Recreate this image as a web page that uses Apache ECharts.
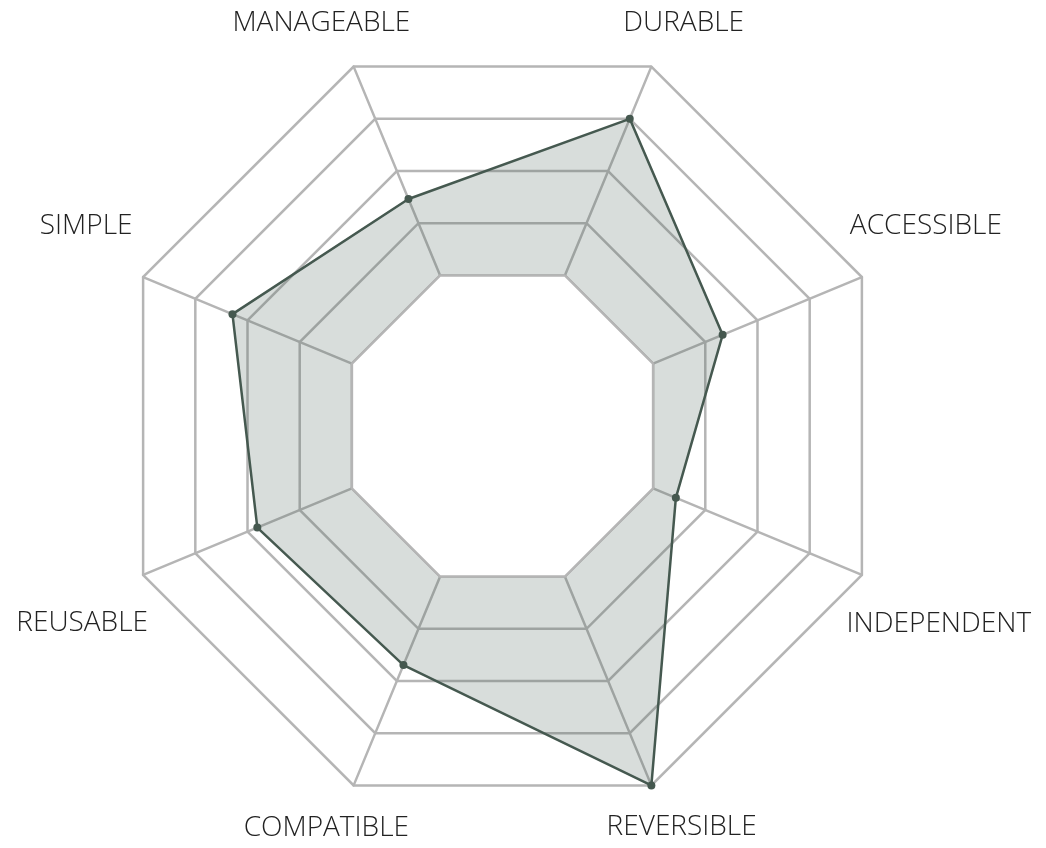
<!DOCTYPE html>
<html>
<head>
<meta charset="utf-8">
<script src="https://cdn.jsdelivr.net/npm/echarts@6/dist/echarts.min.js"></script>
<style>
  html, body { margin: 0; padding: 0; background: #fff; }
  #chart { width: 1046px; height: 848px; }
</style>
</head>
<body>
<div id="chart"></div>
<script>
// indicators, counter-clockwise from the upper right
var names = ['DURABLE', 'MANAGEABLE', 'SIMPLE', 'REUSABLE', 'COMPATIBLE', 'REVERSIBLE', 'INDEPENDENT', 'ACCESSIBLE'];
var scores = [75, 36.6, 57.2, 45.3, 42.4, 100, 10.9, 33.3];
var minScore = 0;
var maxScore = 100;

// small nudges for the axis names (dx, dy in px)
var nameShift = [[12, 5], [-12, 5], [-8, -31], [-12, 28], [-7, -6], [10, -7], [28, 29], [15, -31]];

var rich = {};
names.forEach(function (n, i) {
  var dx = nameShift[i][0], dy = nameShift[i][1];
  rich['n' + i] = {
    fontFamily: 'Open Sans',
    fontWeight: 300,
    fontSize: 28,
    color: '#222',
    padding: [Math.max(2 * dy, 0), Math.max(-2 * dx, 0), Math.max(-2 * dy, 0), Math.max(2 * dx, 0)]
  };
});

var baseline = names.map(function () { return minScore; });

var myChart = echarts.init(document.getElementById('chart'));
myChart.setOption({
  animation: false,
  radar: {
    center: [502.5, 426],
    radius: [163, 389],
    startAngle: 67.5,
    splitNumber: 4,
    shape: 'polygon',
    nameGap: 53,
    indicator: names.map(function (n) { return { name: n, min: minScore, max: maxScore }; }),
    axisName: {
      align: 'center',
      verticalAlign: 'middle',
      formatter: function (name) {
        return '{n' + names.indexOf(name) + '|' + name + '}';
      },
      rich: rich
    },
    splitLine: { lineStyle: { color: '#b5b5b5', width: 2.5 } },
    splitArea: { show: false },
    axisLine: { lineStyle: { color: '#b5b5b5', width: 2.5 } },
    axisTick: { show: false },
    axisLabel: { show: false }
  },
  series: [
    {
      type: 'radar',
      symbol: 'circle',
      symbolSize: 8,
      itemStyle: { color: '#45584f' },
      lineStyle: { color: '#45584f', width: 2.5 },
      areaStyle: { color: '#4d625a', opacity: 0.22 },
      data: [{ value: scores }]
    },
    {
      // white inside the inner ring
      type: 'radar',
      symbol: 'none',
      silent: true,
      lineStyle: { width: 0 },
      areaStyle: { color: '#fff', opacity: 1 },
      data: [{ value: baseline }]
    },
    {
      // inner ring outline on top
      type: 'radar',
      symbol: 'none',
      silent: true,
      lineStyle: { color: '#b5b5b5', width: 2.5 },
      data: [{ value: baseline }]
    }
  ]
});
</script>
</body>
</html>
